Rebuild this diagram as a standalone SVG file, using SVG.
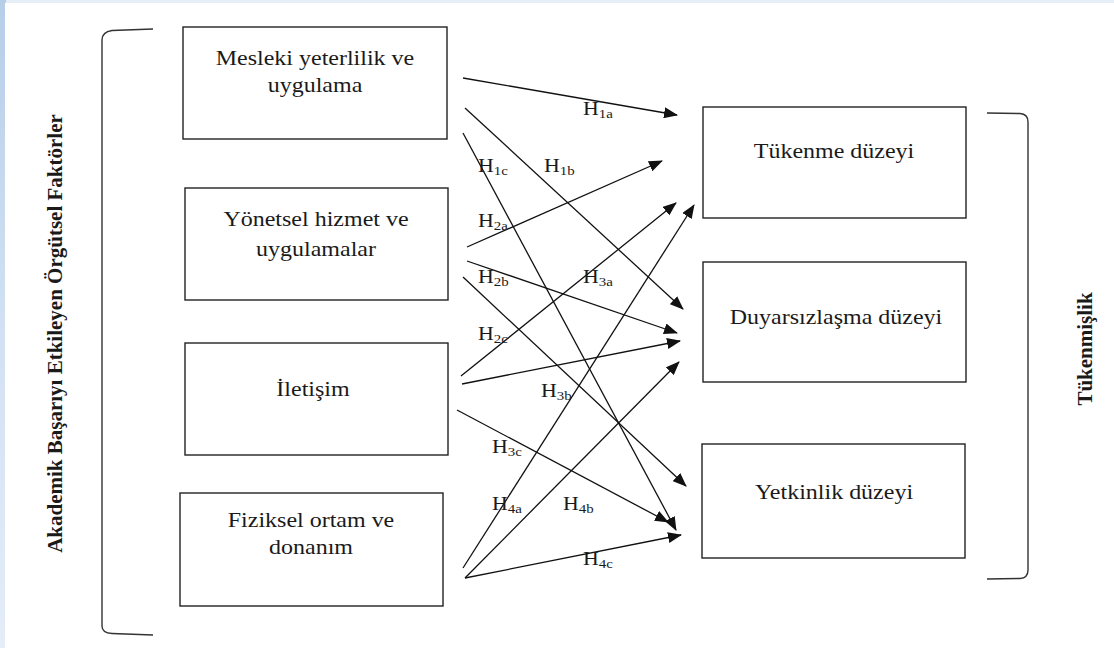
<svg xmlns="http://www.w3.org/2000/svg" width="1114" height="648" viewBox="0 0 1114 648">
  <defs>
    <linearGradient id="edge" x1="0" y1="0" x2="0" y2="1">
      <stop offset="0" stop-color="#b7cee9"/>
      <stop offset="0.45" stop-color="#cfdff2"/>
      <stop offset="1" stop-color="#e4edf8"/>
    </linearGradient>
    <marker id="arr" markerUnits="userSpaceOnUse" markerWidth="15" markerHeight="11" refX="13" refY="5.5" orient="auto">
      <path d="M0,0 L14,5.5 L0,11 z" fill="#111"/>
    </marker>
    <style>
      .box { fill: #fff; stroke: #222; stroke-width: 1.4; }
      .t { font-family: "Liberation Serif", serif; font-size: 20px; fill: #1a1a1a; text-anchor: middle; }
      .lbl { font-family: "Liberation Serif", serif; font-size: 19px; fill: #1a1a1a; }
      .sub { font-size: 13px; }
      .vt { font-family: "Liberation Serif", serif; font-size: 21px; font-weight: bold; fill: #1a1a1a; text-anchor: middle; }
      .br { fill: none; stroke: #333; stroke-width: 1.4; }
      .c { stroke: #111; stroke-width: 1.3; fill: none; marker-end: url(#arr); }
    </style>
  </defs>

  <rect x="0" y="0" width="1114" height="648" fill="#e6eef8"/>
  <rect x="0" y="0" width="6" height="648" fill="url(#edge)"/>
  <rect x="5" y="3" width="1109" height="645" fill="#fff"/>

  <g id="left-bracket">
    <path class="br" d="M153,29 L112,30.5 Q102,32 102,40 L102,626 Q102,633 112,633.5 L153,635"/>
    <text class="vt" transform="translate(62,333.5) rotate(-90)">Akademik Başarıyı Etkileyen Örgütsel Faktörler</text>
  </g>

  <g id="right-bracket">
    <path class="br" d="M987,113 L1020,113.5 Q1028,114 1028,122 L1028,570 Q1028,578 1020,578.5 L987,579"/>
    <text class="vt" transform="translate(1092,349) rotate(-90)">Tükenmişlik</text>
  </g>

  <g id="node-mesleki">
    <rect class="box" x="183" y="27" width="264" height="112"/>
    <text class="t" transform="translate(315,65) scale(1.2,1)">Mesleki yeterlilik ve</text>
    <text class="t" transform="translate(315,92) scale(1.2,1)">uygulama</text>
  </g>
  <g id="node-yonetsel">
    <rect class="box" x="185" y="188" width="263" height="112"/>
    <text class="t" transform="translate(316,226) scale(1.2,1)">Yönetsel hizmet ve</text>
    <text class="t" transform="translate(316,256) scale(1.2,1)">uygulamalar</text>
  </g>
  <g id="node-iletisim">
    <rect class="box" x="185" y="343" width="263" height="112"/>
    <text class="t" transform="translate(313,396) scale(1.2,1)">İletişim</text>
  </g>
  <g id="node-fiziksel">
    <rect class="box" x="180" y="493" width="263" height="113"/>
    <text class="t" transform="translate(311,527) scale(1.2,1)">Fiziksel ortam ve</text>
    <text class="t" transform="translate(311,554) scale(1.2,1)">donanım</text>
  </g>
  <g id="node-tukenme">
    <rect class="box" x="703" y="107" width="263" height="111"/>
    <text class="t" transform="translate(834,158) scale(1.2,1)">Tükenme düzeyi</text>
  </g>
  <g id="node-duyarsizlasma">
    <rect class="box" x="703" y="262" width="263" height="120"/>
    <text class="t" transform="translate(836,324) scale(1.2,1)">Duyarsızlaşma düzeyi</text>
  </g>
  <g id="node-yetkinlik">
    <rect class="box" x="702" y="444" width="263" height="114"/>
    <text class="t" transform="translate(834,499) scale(1.2,1)">Yetkinlik düzeyi</text>
  </g>

  <g id="connectors">
    <line class="c" x1="463" y1="78" x2="677" y2="115"/>
    <line class="c" x1="465" y1="108" x2="683" y2="309"/>
    <line class="c" x1="463" y1="133" x2="676" y2="530"/>
    <line class="c" x1="467" y1="247" x2="662" y2="161"/>
    <line class="c" x1="467" y1="261" x2="677" y2="333"/>
    <line class="c" x1="463" y1="277" x2="686" y2="486"/>
    <line class="c" x1="461" y1="376" x2="676" y2="203"/>
    <line class="c" x1="462" y1="384" x2="680" y2="341"/>
    <line class="c" x1="457" y1="410" x2="668" y2="522"/>
    <line class="c" x1="463" y1="568" x2="694" y2="205"/>
    <line class="c" x1="465" y1="578" x2="679" y2="362"/>
    <line class="c" x1="465" y1="578" x2="681" y2="535"/>
  </g>

  <g id="labels">
    <text class="lbl" transform="translate(583,115) scale(1.15,1)">H<tspan class="sub" dy="3">1a</tspan></text>
    <text class="lbl" transform="translate(478,172) scale(1.15,1)">H<tspan class="sub" dy="3">1c</tspan></text>
    <text class="lbl" transform="translate(544,172) scale(1.15,1)">H<tspan class="sub" dy="3">1b</tspan></text>
    <text class="lbl" transform="translate(478,227) scale(1.15,1)">H<tspan class="sub" dy="3">2a</tspan></text>
    <text class="lbl" transform="translate(478,283) scale(1.15,1)">H<tspan class="sub" dy="3">2b</tspan></text>
    <text class="lbl" transform="translate(583,283) scale(1.15,1)">H<tspan class="sub" dy="3">3a</tspan></text>
    <text class="lbl" transform="translate(478,340) scale(1.15,1)">H<tspan class="sub" dy="3">2c</tspan></text>
    <text class="lbl" transform="translate(541,397) scale(1.15,1)">H<tspan class="sub" dy="3">3b</tspan></text>
    <text class="lbl" transform="translate(492,453) scale(1.15,1)">H<tspan class="sub" dy="3">3c</tspan></text>
    <text class="lbl" transform="translate(492,510) scale(1.15,1)">H<tspan class="sub" dy="3">4a</tspan></text>
    <text class="lbl" transform="translate(563,510) scale(1.15,1)">H<tspan class="sub" dy="3">4b</tspan></text>
    <text class="lbl" transform="translate(583,565) scale(1.15,1)">H<tspan class="sub" dy="3">4c</tspan></text>
  </g>
</svg>
